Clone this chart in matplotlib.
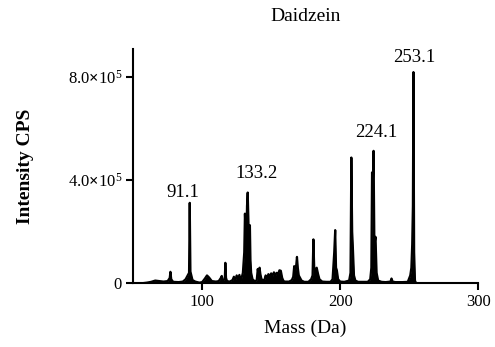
import matplotlib
matplotlib.use("Agg")
import matplotlib.pyplot as plt
from matplotlib.ticker import FuncFormatter

plt.rcParams['font.family'] = 'Liberation Serif'
plt.rcParams['mathtext.fontset'] = 'custom'
plt.rcParams['mathtext.rm'] = 'Liberation Serif'
plt.rcParams['mathtext.bf'] = 'Liberation Serif:bold'

# spectrum profile (intensity in 1e3 CPS)
mass = [50, 57, 60, 63, 66, 69, 72, 75, 76.5, 77, 77.6, 79, 83, 86, 88,
        89, 90.5, 91, 91.5, 92.2, 93, 95, 98, 100,
        102, 103.5, 105, 107, 110, 112, 113.5, 114.2, 115, 116.4, 116.8, 117.3, 118, 120,
        122, 123, 124, 125, 126, 127, 128, 129.5, 130.5, 131, 131.5, 132, 132.5, 133,
        133.5, 134, 134.6, 135, 135.5, 136.5, 138,
        139.5, 140.3, 141, 141.6, 142.2, 143, 145, 146, 147, 148, 149, 150, 151, 152,
        153, 154, 155, 156, 157, 158, 159, 160,
        163, 165, 166, 166.7, 167.3, 168, 168.7, 169.3, 170, 171, 172, 174,
        177, 179, 180, 180.6, 181.2, 182, 183, 184, 185, 187, 190,
        193, 194.5, 195.2, 195.7, 196.4, 197, 197.6, 198.5, 200, 203,
        206.5, 207.5, 208.1, 208.7, 209.2, 210, 211, 213,
        220, 221.8, 222.6, 223.1, 223.6, 224.2, 224.8, 225.6, 226.4, 227.5, 230,
        233, 236.5, 237.2, 238, 240, 245, 249, 250.8, 251.6, 252.2, 252.7, 253.1,
        253.6, 254.2, 255]
intensity = [0, 0, 2, 5, 10, 8, 6, 8, 20, 44, 15, 5, 4, 6, 15,
             25, 40, 312, 45, 30, 12, 6, 2, 4,
             18, 30, 22, 8, 6, 8, 20, 28, 10, 15, 79, 20, 8, 6,
             12, 25, 10, 30, 18, 32, 8, 40, 120, 270, 200, 150, 300, 352,
             250, 120, 225, 90, 40, 15, 8,
             10, 55, 30, 60, 35, 15, 10, 30, 20, 35, 25, 38, 28, 42,
             30, 40, 35, 50, 48, 20, 8, 6,
             6, 12, 25, 66, 40, 60, 102, 60, 30, 20, 10, 5,
             5, 15, 30, 170, 60, 50, 60, 35, 15, 6, 5,
             5, 15, 80, 120, 206, 60, 50, 15, 6, 5,
             10, 40, 488, 200, 140, 30, 10, 5,
             5, 15, 60, 430, 380, 514, 150, 180, 40, 10, 5,
             4, 6, 18, 6, 4, 4, 5, 30, 60, 150, 300, 820,
             120, 10, 0]
intensity = [v * 1e3 for v in intensity]

# peak labels: text, x, y (baseline)
label_text = ['91.1', '133.2', '224.1', '253.1']
label_x = [86.1, 139.4, 225.9, 253.6]
label_y = [3.34e5, 4.07e5, 5.66e5, 8.6e5]


def sci_fmt(v, pos):
    if v == 0:
        return '0'
    return r'$\mathregular{%.1f}\mathbf{\times}\mathregular{10^{5}}$' % (v / 1e5)


fig = plt.figure(figsize=(4.95, 3.47), dpi=100)
ax = fig.add_axes([0.269, 0.184, 0.697, 0.675])

ax.fill_between(mass, intensity, 0, color='black', linewidth=0)
ax.plot(mass, intensity, color='black', linewidth=1.6)

for t, x, y in zip(label_text, label_x, label_y):
    ax.text(x, y, t, ha='center', va='baseline', fontsize=13.5)

ax.set_xlim(50, 300)
ax.set_ylim(0, 9.1e5)
ax.set_xticks([100, 200, 300])
ax.set_yticks([0, 4e5, 8e5])
ax.yaxis.set_major_formatter(FuncFormatter(sci_fmt))

for s in ['top', 'right']:
    ax.spines[s].set_visible(False)
for s in ['left', 'bottom']:
    ax.spines[s].set_linewidth(1.5)
ax.tick_params(direction='out', length=5, width=1.5, labelsize=12, pad=3)

ax.set_title('Daidzein', fontsize=14, pad=20)
ax.set_xlabel('Mass (Da)', fontsize=14, labelpad=7)
ax.set_ylabel('Intensity CPS', fontsize=14, fontweight='bold', labelpad=24)

fig.savefig('out.png', dpi=100)
